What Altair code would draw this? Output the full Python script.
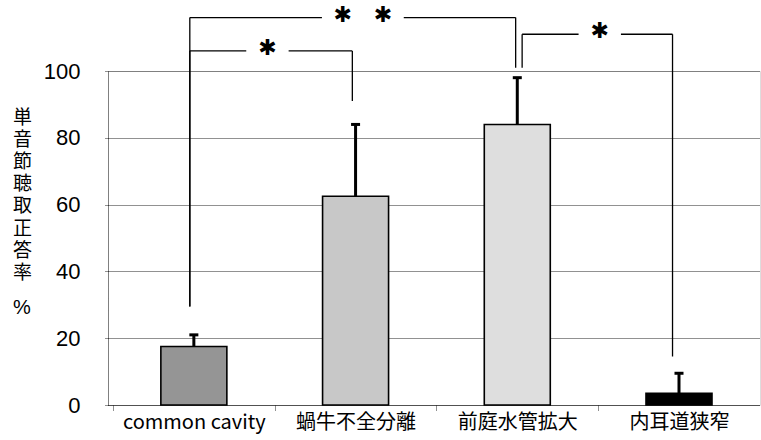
import altair as alt
import pandas as pd

# Group means and mean + SD (upper whisker) for monosyllable recognition (%)
categories = ["common cavity", "蝸牛不全分離", "前庭水管拡大", "内耳道狭窄"]
means = [17.5, 62.5, 84.0, 3.5]
upper = [21.0, 84.0, 98.0, 9.5]
fills = ["#959595", "#c8c8c8", "#dedede", "#000000"]

# Significance brackets (x in group-index units, y in %)
br_from = [-0.025, -0.025, 2.03]
br_to = [1.99, 0.98, 2.96]
br_top = [116.0, 106.0, 111.0]
br_from_foot = [29.5, 29.5, 101.0]
br_to_foot = [101.0, 91.0, 14.5]
br_label = ["✱\u2003✱", "✱", "✱"]
br_label_at = [1.045, 0.455, 2.51]
br_gap = [0.253, 0.131, 0.131]

bars = pd.DataFrame({
    "idx": list(range(len(categories))),
    "cat": categories,
    "mean": means,
    "upper": upper,
})

segs = []
for a, b, top, fa, fb, lx, g in zip(br_from, br_to, br_top, br_from_foot,
                                    br_to_foot, br_label_at, br_gap):
    segs.append({"x": a, "x2": a, "y": fa, "y2": top})
    segs.append({"x": b, "x2": b, "y": fb, "y2": top})
    segs.append({"x": a, "x2": lx - g, "y": top, "y2": top})
    segs.append({"x": lx + g, "x2": b, "y": top, "y2": top})
segs = pd.DataFrame(segs)

stars = pd.DataFrame({"x": br_label_at, "y": br_top, "t": br_label})

xscale = alt.Scale(domain=[-0.5, 3.47], nice=False, zero=False)
yscale = alt.Scale(domain=[0, 100], nice=False)

label_expr = ("datum.value % 1 === 0 ? " + str(categories).replace("'", '"')
              + "[datum.value] : ''")

x_axis = alt.Axis(
    title=None,
    values=[-0.5, 0, 0.5, 1, 1.5, 2, 2.5, 3],
    labelExpr=label_expr,
    labelFont="Noto Sans CJK JP",
    labelFontSize=20,
    labelColor="#000",
    labelPadding=1,
    labelFlush=False,
    labelOverlap=False,
    labelBound=False,
    grid=False,
    domainColor="#222",
    domainDash=[1, 1],
    tickColor="#222",
    tickDash=[1, 1],
    tickSize=6,
    tickOpacity={"condition": {"test": "datum.value % 1 !== 0", "value": 1},
                 "value": 0},
)

y_axis = alt.Axis(
    title=["単", "音", "節", "聴", "取", "正", "答", "率"],
    titleAngle=0,
    titleX=-86,
    titleY=37,
    titleAlign="center",
    titleBaseline="top",
    titleFont="Noto Sans CJK JP",
    titleFontSize=19,
    titleFontWeight="normal",
    titleLineHeight=22.2,
    titleColor="#000",
    values=list(range(0, 101, 10)),
    labelExpr="datum.value % 20 === 0 ? datum.label : ''",
    labelFont="Liberation Sans",
    labelFontSize=22,
    labelColor="#000",
    labelPadding=25,
    grid=True,
    gridColor="#222",
    gridDash=[1, 1],
    gridOpacity=1,
    gridWidth=1,
    domainColor="#222",
    domainDash=[1, 1],
    tickColor="#222",
    tickDash=[1, 1],
    tickSize=3,
)

base = alt.Chart(bars)

bar_layer = base.mark_bar(size=66, stroke="#000", strokeWidth=1.6).encode(
    x=alt.X("idx:Q", scale=xscale, axis=x_axis),
    y=alt.Y("mean:Q", scale=yscale, axis=y_axis),
    color=alt.Color("cat:N", scale=alt.Scale(domain=categories, range=fills),
                    legend=None),
)

err_layer = base.mark_rule(color="#000", strokeWidth=3).encode(
    x="idx:Q", y="mean:Q", y2="upper:Q"
)

cap_layer = base.mark_tick(orient="horizontal", size=9, thickness=3,
                           color="#000", opacity=1).encode(
    x="idx:Q", y="upper:Q"
)

bracket_layer = alt.Chart(segs).mark_rule(color="#000", strokeWidth=1.3).encode(
    x="x:Q", x2="x2", y="y:Q", y2="y2"
)

star_layer = alt.Chart(stars).mark_text(
    font="DejaVu Sans", fontSize=22, baseline="middle", dy=-3, color="#000"
).encode(x="x:Q", y="y:Q", text="t:N")

pct_layer = alt.Chart(pd.DataFrame({"t": ["%"]})).mark_text(
    font="Liberation Sans", fontSize=20, baseline="middle", align="center",
    color="#000"
).encode(x=alt.value(-86), y=alt.value(237), text="t:N")

chart = alt.layer(
    bar_layer, err_layer, cap_layer, bracket_layer, star_layer, pct_layer
).properties(
    width=652,
    height=334,
    autosize=alt.AutoSizeParams(type="none"),
    padding={"left": 108, "top": 71, "right": 1, "bottom": 35},
).configure_view(stroke=None).configure(background="white")

chart.save("out.html", embed_options={"renderer": "svg", "actions": False})
